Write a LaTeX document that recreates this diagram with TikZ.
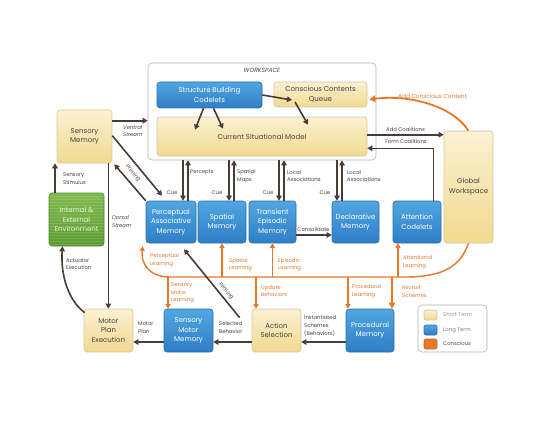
\documentclass[tikz,border=0pt]{standalone}
\usepackage{fontspec}
\setmainfont{Poppins}
\usetikzlibrary{arrows.meta,calc,shadings}
\definecolor{arrc}{HTML}{4B3B35}
\definecolor{orng}{HTML}{E8772A}
\definecolor{ytop}{HTML}{FBF1D3}
\definecolor{ybot}{HTML}{F2D98F}
\definecolor{yedge}{HTML}{D6C79E}
\definecolor{btop}{HTML}{52A6E0}
\definecolor{bbot}{HTML}{2E7EC6}
\definecolor{bedge}{HTML}{2A6FAE}
\definecolor{gtop}{HTML}{82BC50}
\definecolor{gbot}{HTML}{5C9B32}
\definecolor{lblc}{HTML}{4A403C}
\definecolor{olbl}{HTML}{E07A2E}
\definecolor{wsedge}{HTML}{B4B4B4}
\definecolor{envtxt}{HTML}{E6F2DA}
\begin{document}
\begin{tikzpicture}[x=1pt,y=-1pt,
  box/.style={rounded corners=3pt, line width=0.6pt, align=center, inner sep=1pt, font=\fontsize{7}{9.5}\selectfont},
  stm/.style={box, draw=yedge, top color=ytop, bottom color=ybot, text=lblc},
  ltm/.style={box, draw=bedge, top color=btop, bottom color=bbot, text=white},
  arr/.style={draw=arrc, line width=1.6pt, -{Triangle[length=5pt,width=5.5pt]}},
  oarr/.style={draw=orng, line width=1.4pt, -{Triangle[length=4.5pt,width=5pt]}},
  oline/.style={draw=orng, line width=1.4pt},
  lbl/.style={font=\fontsize{5.3}{7.6}\selectfont, text=lblc, align=left, inner sep=0pt},
  ilbl/.style={lbl, font=\fontsize{5.3}{7.6}\selectfont\itshape},
  olb/.style={lbl, text=olbl},
]
\useasboundingbox (0,0) rectangle (556,425);
\fill[white] (0,0) rectangle (556,425);

% ---------- nodes ----------
\node[draw=wsedge, fill=white, rounded corners=4pt, line width=0.6pt, minimum width=228pt, minimum height=97pt, inner sep=0pt] (ws) at (262,111.5) {};
\node[font=\fontsize{6}{7}\selectfont\itshape, text=lblc, inner sep=0pt] (wst) at (262,70) {WORKSPACE};
\node[ltm, minimum width=105pt, minimum height=26pt] (sbc) at (209.5,95) {Structure Building\\Codelets};
\node[stm, minimum width=93pt, minimum height=25pt] (ccq) at (320.5,94.5) {Conscious Contents\\Queue};
\node[stm, minimum width=210pt, minimum height=39pt] (csm) at (262,136.5) {Current Situational Model};

\node[stm, minimum width=55pt, minimum height=53pt] (sm) at (84.5,136.5) {Sensory\\Memory};
\node[box, draw=gbot!85!black, top color=gtop, bottom color=gbot, text=envtxt, minimum width=55pt, minimum height=53pt,
  path picture={\foreach \k in {0,3,...,54}{\draw[white,opacity=0.13,line width=1pt] ([yshift=-\k pt]path picture bounding box.north west) -- ([yshift=-\k pt]path picture bounding box.north east);}}]
  (env) at (76.5,219.5) {Internal \&\\External\\Environment};

\node[ltm, minimum width=50pt, minimum height=42pt] (pam) at (171,222) {Perceptual\\Associative\\Memory};
\node[ltm, minimum width=48pt, minimum height=42pt] (spm) at (222,222) {Spatial\\Memory};
\node[ltm, minimum width=47pt, minimum height=42pt] (tem) at (272.5,222) {Transient\\Episodic\\Memory};
\node[ltm, minimum width=47pt, minimum height=42pt] (dm) at (355.5,222) {Declarative\\Memory};
\node[ltm, minimum width=48pt, minimum height=42pt] (ac) at (417,222) {Attention\\Codelets};
\node[stm, minimum width=49pt, minimum height=112pt] (gw) at (468.5,187) {Global\\Workspace};

\node[stm, minimum width=49pt, minimum height=43pt] (mpe) at (108.5,330.5) {Motor\\Plan\\Execution};
\node[ltm, minimum width=49pt, minimum height=43pt] (smm) at (188.5,330.5) {Sensory\\Motor\\Memory};
\node[stm, minimum width=49pt, minimum height=43pt] (as) at (276.5,330.5) {Action\\Selection};
\node[ltm, minimum width=48pt, minimum height=43pt] (pm) at (370,330.5) {Procedural\\Memory};

% legend
\node[draw=wsedge, fill=white, rounded corners=4pt, line width=0.6pt, minimum width=69pt, minimum height=47pt, inner sep=0pt] (leg) at (452.5,328.5) {};
\node[stm, minimum width=13pt, minimum height=10pt, inner sep=0pt, rounded corners=2pt] (k1) at (430.5,315) {};
\node[ltm, minimum width=13pt, minimum height=10pt, inner sep=0pt, rounded corners=2pt] (k2) at (430.5,330) {};
\node[box, draw=orng!85!black, fill=orng, minimum width=13pt, minimum height=10pt, inner sep=0pt, rounded corners=2pt] (k3) at (430.5,344) {};
\node[lbl, anchor=west, text=black!40] (k1t) at (443,315) {Short Term};
\node[lbl, anchor=west, text=black!50] (k2t) at (443,330) {Long Term};
\node[lbl, anchor=west, text=black!70] (k3t) at (443,344) {Conscious};

% ---------- orange (conscious / learning) ----------
\coordinate (bus) at (300,277);
\draw[oarr] (gw.south) .. controls +(-8,22) and +(40,0) .. ($(bus)+(105,0)$) -- ($(bus)+(-130,0)$) .. controls +(-22,0) and +(-2,16) .. ([xshift=-3pt,yshift=-3pt]pam.south west);
\draw[oarr] (spm.south |- bus) -- (spm.south);
\draw[oarr] (tem.south |- bus) -- (tem.south);
\draw[oarr] ([xshift=-19pt]ac.south |- bus) -- ([xshift=-19pt]ac.south);
\draw[oarr] ([xshift=-20.5pt]smm.north |- bus) -- ([xshift=-20.5pt]smm.north);
\draw[oarr] ([xshift=-20.5pt]as.north |- bus) -- ([xshift=-20.5pt]as.north);
\draw[oarr] ([xshift=-22pt]pm.north |- bus) -- ([xshift=-22pt]pm.north);
\draw[draw=orng, line width=2pt, -{Triangle[length=6pt,width=6.5pt]}] ([xshift=22pt]pm.north |- bus) -- ([xshift=22pt]pm.north);
\draw[draw=orng, line width=1.8pt, -{Triangle[length=6pt,width=6.5pt]}] (gw.north) .. controls +(-17,-26) and +(38,-5) .. ([xshift=2pt,yshift=-5pt]ccq.east);

% ---------- dark connectors ----------
\draw[arr] ([yshift=-11pt]sm.north east) -- ([yshift=-11pt]sm.north east -| ws.west);
\draw[arr] ([yshift=-26pt]sm.north east) -- ([xshift=-9pt,yshift=5pt]pam.north);
\draw[arr] (pam.north west) -- ([xshift=2pt,yshift=-1pt]sm.south east);
\draw[arr] ([xshift=-4pt]sm.south east) -- ([xshift=-4pt]sm.south east |- mpe.north);
\draw[arr] ([xshift=-21.5pt]env.north) -- ([xshift=-21.5pt]env.north |- sm.south);
\draw[arr] ([xshift=1pt,yshift=-4pt]mpe.north west) .. controls +(-17,-13) and +(-2,28) .. ([xshift=-14pt]env.south);

% workspace <-> memories
\draw[arr] ([xshift=12pt]pam.north |- ws.south) -- ([xshift=12pt]pam.north);
\draw[arr] ([xshift=17pt]pam.north) -- ([xshift=17pt]pam.north |- ws.south);
\draw[arr] ([xshift=7pt]spm.north |- ws.south) -- ([xshift=7pt]spm.north);
\draw[arr] ([xshift=12pt]spm.north) -- ([xshift=12pt]spm.north |- ws.south);
\draw[arr] ([xshift=6.5pt]tem.north |- ws.south) -- ([xshift=6.5pt]tem.north);
\draw[arr] ([xshift=11.5pt]tem.north) -- ([xshift=11.5pt]tem.north |- ws.south);
\draw[arr] ([xshift=-18.5pt]dm.north |- ws.south) -- ([xshift=-18.5pt]dm.north);
\draw[arr] ([xshift=-13.5pt]dm.north) -- ([xshift=-13.5pt]dm.north |- ws.south);

% inside workspace
\draw[arr] ([xshift=-6pt]sbc.south) -- ([xshift=-67pt,yshift=-13pt]csm.north);
\draw[arr] ([xshift=4pt]sbc.south) -- ([xshift=-39pt,yshift=-12pt]csm.north);
\draw[arr] (sbc.east) -- ([xshift=-28.5pt,yshift=-5.5pt]ccq.center);
\draw[arr] ([xshift=-25.5pt,yshift=-7.5pt]ccq.center) -- ([xshift=46pt,yshift=-8pt]csm.north);

% coalitions
\draw[arr] ([yshift=-4pt]gw.north west -| csm.east) -- ([yshift=-4pt]gw.north west);
\draw[arr] ([xshift=-8pt]ac.north east) |- ([yshift=8pt]csm.south east);

% consolidate
\draw[arr] ([yshift=-13pt]tem.east) -- ([yshift=-13pt]tem.east -| dm.west);

% bottom row
\draw[arr] ([yshift=-11.5pt]as.west) -- ([yshift=-11.5pt]as.west -| smm.east);
\draw[arr] ([yshift=-11.5pt]smm.west) -- ([yshift=-11.5pt]smm.west -| mpe.east);
\draw[arr] ([yshift=-11.5pt]pm.west) -- ([yshift=-11.5pt]pm.west -| as.east);
\coordinate (prs) at ($(as.north west)+(-12,9)$);
\draw[arr] (prs) -- ([xshift=13pt,yshift=-6pt]pam.south);

% ---------- labels ----------
\node[ilbl, anchor=west] (l1) at (123,131) {Ventral\\Stream};
\node[ilbl, anchor=west] (l2) at (112,221.5) {Dorsal\\Stream};
\node[lbl, anchor=west] (l3) at (63,178.5) {Sensory\\Stimulus};
\node[lbl, anchor=west] (l4) at (66,264) {Actuator\\Execution};
\node[lbl, rotate=-50] (l5) at (133,173) {Priming};
\node[lbl, rotate=-51] (l6) at (226,291) {Priming};
\node[lbl] (c1) at (172,193) {Cue};
\node[lbl] (c2) at (217,193) {Cue};
\node[lbl] (c3) at (268,193) {Cue};
\node[lbl] (c4) at (325,193) {Cue};
\node[lbl, anchor=west] (l7) at (190,172) {Percepts};
\node[lbl, anchor=west] (l8) at (237,176) {Spatial\\Maps};
\node[lbl, anchor=west] (l9) at (287,176) {Local\\Associations};
\node[lbl, anchor=west] (l10) at (347,176) {Local\\Associations};
\node[lbl] (l11) at (405.5,130) {Add Coalitions};
\node[lbl] (l12) at (406,142) {Form Coalitions};
\node[olb, font=\fontsize{5.8}{7}\selectfont] (l13) at (432.5,96) {Add Conscious Content};
\node[lbl] (l14) at (313.5,230) {Consolidate};
\node[olb, anchor=west] (l15) at (150,260) {Perceptual\\Learning};
\node[olb, anchor=west] (l16) at (229,264.5) {Spatial\\Learning};
\node[olb, anchor=west] (l17) at (278,264.5) {Episodic\\Learning};
\node[olb, anchor=west] (l18) at (403,262) {Attentional\\Learning};
\node[olb, anchor=west] (l19) at (171,293) {Sensory\\Motor\\Learning};
\node[olb, anchor=west] (l20) at (261,291) {Update\\Behaviors};
\node[olb, anchor=west] (l21) at (352,291) {Procedural\\Learning};
\node[olb, anchor=west] (l22) at (402,291.5) {Recruit\\Schemes};
\node[lbl, anchor=west] (l23) at (138,327.5) {Motor\\Plan};
\node[lbl, anchor=west] (l24) at (219,327.5) {Selected\\Behavior};
\node[lbl, anchor=west] (l25) at (304,326) {Instantiated\\Schemes\\(Behaviors)};
\end{tikzpicture}
\end{document}
